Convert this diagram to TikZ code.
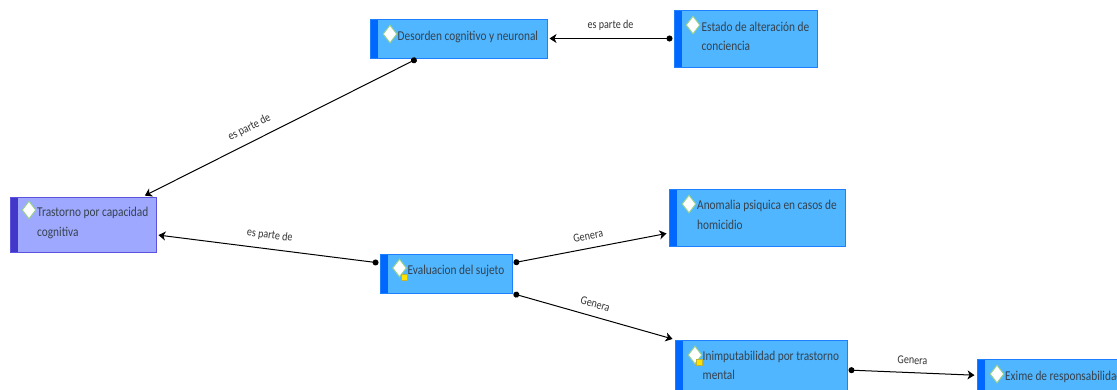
\documentclass[tikz,border=0pt]{standalone}
\usepackage{fontspec}
\setmainfont[FakeStretch=0.84]{Carlito}
\usetikzlibrary{arrows.meta,shapes.geometric}

\definecolor{conceptfill}{HTML}{4FB6FF}
\definecolor{conceptbar}{HTML}{0067FF}
\definecolor{conceptline}{HTML}{1F80FF}
\definecolor{groupfill}{HTML}{9EA8FF}
\definecolor{groupbar}{HTML}{4337C9}
\definecolor{groupline}{HTML}{5B52E0}
\definecolor{labelgray}{HTML}{36424E}
\definecolor{markerline}{HTML}{98D08F}

\tikzset{
    conceptbox/.style={rectangle, draw=conceptline, fill=conceptfill, line width=1pt, inner sep=0pt,
        path picture={\fill[conceptbar] (path picture bounding box.south west) rectangle ([xshift=8pt]path picture bounding box.north west);}},
    groupbox/.style={rectangle, draw=groupline, fill=groupfill, line width=1pt, inner sep=0pt,
        path picture={\fill[groupbar] (path picture bounding box.south west) rectangle ([xshift=8pt]path picture bounding box.north west);}},
    marker/.style={diamond, draw=markerline, fill=white, line width=1pt, inner sep=0pt, minimum width=14pt, minimum height=18pt},
    notebadge/.style={rectangle, draw=yellow!70!black, fill=yellow!85!orange, line width=0.6pt, inner sep=0pt, minimum size=6pt},
    boxtext/.style={anchor=north west, align=left, inner sep=0pt, text=labelgray, font=\fontsize{13.5}{19.5}\selectfont},
    edgelabel/.style={sloped, above=8pt, inner sep=0pt, text=black!80, font=\fontsize{12}{13}\selectfont},
    link/.style={draw, {Circle[length=6pt]}-{Stealth[length=7pt,width=9pt,inset=2pt]}, line width=1pt, shorten <=1pt, shorten >=2pt}
}

\begin{document}
\begin{tikzpicture}[x=1pt, y=-1pt]
    \useasboundingbox (0,0) rectangle (1117,389);
    \clip (0,0) rectangle (1117,389);

    % Boxes
    \node[conceptbox, minimum width=177pt, minimum height=39pt] at (458.5,38.5) (desorden) {};
    \node[conceptbox, minimum width=143pt, minimum height=57pt] at (745.5,38.5) (estado) {};
    \node[groupbox, minimum width=146pt, minimum height=55pt] at (83,224.5) (trastorno) {};
    \node[conceptbox, minimum width=132pt, minimum height=39pt] at (446,273.5) (evaluacion) {};
    \node[conceptbox, minimum width=176pt, minimum height=57pt] at (757,217.5) (anomalia) {};
    \node[conceptbox, minimum width=172pt, minimum height=57pt] at (761,368.5) (inimputabilidad) {};
    \node[conceptbox, minimum width=173pt, minimum height=57pt] at (1063.5,387.5) (exime) {};

    % Diamonds
    \node[marker] at (390,34) (desordenmark) {};
    \node[marker] at (693,25) (estadomark) {};
    \node[marker] at (29,210) (trastornomark) {};
    \node[marker] at (399.5,268) (evaluacionmark) {};
    \node[marker] at (689,204) (anomaliamark) {};
    \node[marker] at (695,355) (inimputabilidadmark) {};
    \node[marker] at (997,374) (eximemark) {};
    \node[notebadge] at (404,277) (evaluacionnote) {};
    \node[notebadge] at (699.5,362) (inimputabilidadnote) {};

    % Texts
    \node[boxtext] at (397.5,30.5) (desordentext) {Desorden cognitivo y neuronal};
    \node[boxtext] at (701.5,21.5) (estadotext) {Estado de alteración de\\conciencia};
    \node[boxtext] at (37,207) (trastornotext) {Trastorno por capacidad\\cognitiva};
    \node[boxtext] at (407.5,265) (evaluaciontext) {Evaluacion del sujeto};
    \node[boxtext] at (697,200) (anomaliatext) {Anomalia psiquica en casos de\\homicidio};
    \node[boxtext] at (702.5,350.5) (inimputabilidadtext) {Inimputabilidad por trastorno\\mental};
    \node[boxtext] at (1005,370.5) (eximetext) {Exime de responsabilidad};

    % Links
    \path (estado.west) edge[link] node[edgelabel] (label1) {es parte de} (desorden.east);
    \path (desorden.-154.3) edge[link] node[edgelabel, pos=0.59] (label2) {es parte de} (trastorno.25.8);
    \path (evaluacion.171.8) edge[link] node[edgelabel] (label3) {es parte de} (trastorno.-8.2);
    \path (evaluacion.9.9) edge[link] node[edgelabel] (label4) {Genera} (anomalia.190.6);
    \path (evaluacion.south east) edge[link] node[edgelabel, pos=0.49] (label5) {Genera} (inimputabilidad.north west);
    \path (inimputabilidad.-1.7) edge[link] node[edgelabel] (label6) {Genera} (exime.172.4);
\end{tikzpicture}
\end{document}
